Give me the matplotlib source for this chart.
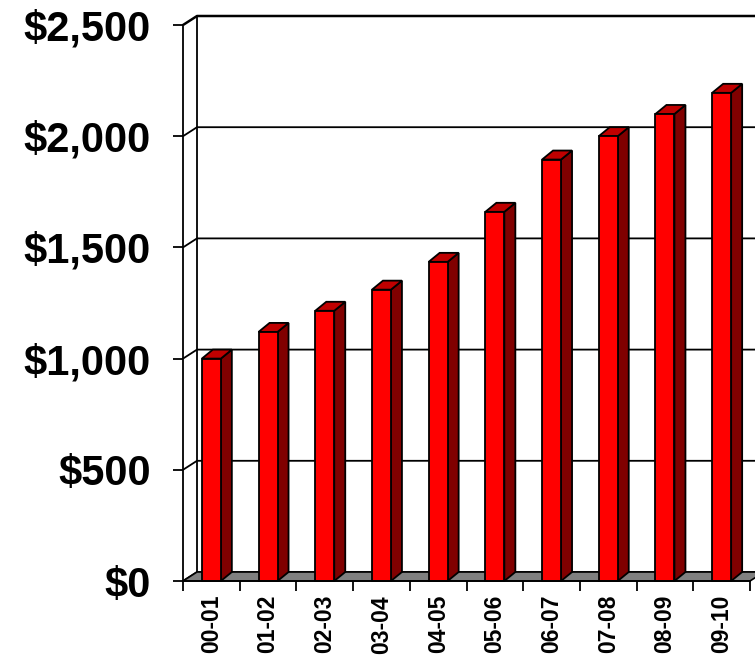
import matplotlib
matplotlib.use("Agg")
import matplotlib.pyplot as plt
from matplotlib.patches import Polygon
from matplotlib.ticker import StrMethodFormatter

plt.rcParams['font.family'] = ['Liberation Sans', 'DejaVu Sans']
plt.rcParams['font.weight'] = 'bold'

seasons = ["00-01", "01-02", "02-03", "03-04", "04-05",
           "05-06", "06-07", "07-08", "08-09", "09-10"]
amounts = [1000, 1120, 1215, 1310, 1435, 1660, 1895, 2000, 2100, 2195]
y_ticks = [0, 500, 1000, 1500, 2000, 2500]

fig = plt.figure(figsize=(7.55, 6.55), dpi=100)
ax = fig.add_axes([183/755, 74/655, 567/755, 556/655])
n = len(seasons)
ax.set_xlim(0, n)
ax.set_ylim(0, y_ticks[-1])

# depth of the 3d box, given in pixels and turned into data units
bb = ax.get_window_extent()
per_px_x = n / bb.width
per_px_y = y_ticks[-1] / bb.height
wall_dx, wall_dy = 14 * per_px_x, 9 * per_px_y
bar_dx, bar_dy = 11 * per_px_x, 9 * per_px_y

# back wall: gridlines + short diagonal on the side wall
for v in y_ticks:
    lw = 1.8 if v == y_ticks[-1] else 1.3
    ax.plot([0, wall_dx, n + 2 * wall_dx], [v, v + wall_dy, v + wall_dy],
            color="black", lw=lw, clip_on=False, zorder=1, solid_capstyle="butt")
ax.plot([wall_dx, wall_dx], [wall_dy, y_ticks[-1] + wall_dy], color="black",
        lw=1.3, clip_on=False, zorder=1)

# floor
floor = Polygon([(0, 0), (n, 0), (n + wall_dx, wall_dy), (wall_dx, wall_dy)],
                closed=True, facecolor="#808080", edgecolor="black", lw=1.2,
                clip_on=False, zorder=2)
ax.add_patch(floor)

# bars: front face, then side and top faces
w = 0.335
centers = [i + 0.5 for i in range(n)]
ax.bar(centers, amounts, width=w, color="#FF0000", edgecolor="black",
       linewidth=1.3, zorder=4, clip_on=False)
for c, v in zip(centers, amounts):
    x0, x1 = c - w / 2, c + w / 2
    side = Polygon([(x1, 0), (x1 + bar_dx, bar_dy), (x1 + bar_dx, v + bar_dy), (x1, v)],
                   closed=True, facecolor="#800000", edgecolor="black", lw=1.3,
                   clip_on=False, zorder=3)
    top = Polygon([(x0, v), (x1, v), (x1 + bar_dx, v + bar_dy), (x0 + bar_dx, v + bar_dy)],
                  closed=True, facecolor="#C00000", edgecolor="black", lw=1.3,
                  clip_on=False, zorder=3)
    ax.add_patch(side)
    ax.add_patch(top)

ax.set_facecolor("none")
for s in ["top", "right"]:
    ax.spines[s].set_visible(False)
ax.spines["left"].set_linewidth(1.3)
ax.spines["bottom"].set_linewidth(1.3)
ax.spines["left"].set_zorder(5)
ax.spines["bottom"].set_zorder(5)

ax.set_yticks(y_ticks)
ax.yaxis.set_major_formatter(StrMethodFormatter("${x:,.0f}"))
ax.tick_params(axis="y", direction="out", length=7.2, width=1.3, pad=16,
               labelsize=30)

ax.set_xticks(range(n + 1))
ax.set_xticklabels([])
ax.set_xticks(centers, minor=True)
ax.set_xticklabels(seasons, minor=True, rotation=90, fontsize=16.5, fontweight="bold")
ax.tick_params(axis="x", which="major", direction="out", length=7.2, width=1.3)
ax.tick_params(axis="x", which="minor", length=0, pad=10)

fig.savefig("out.png", dpi=100)
